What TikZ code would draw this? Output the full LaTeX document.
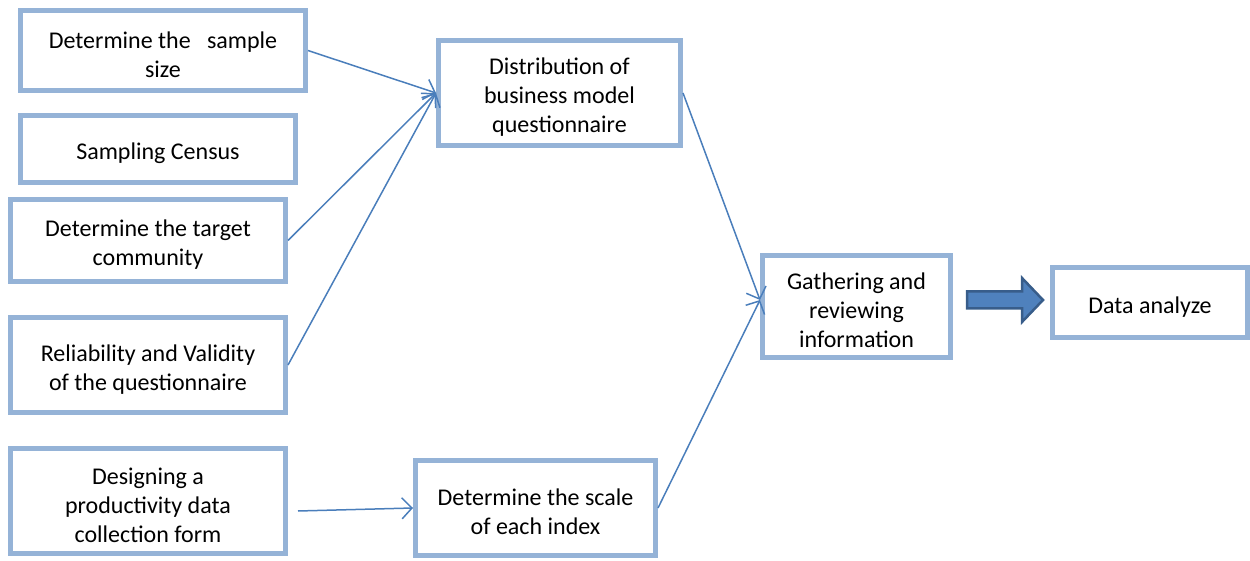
\documentclass[tikz,border=0pt]{standalone}
\usepackage{fontspec}
\setmainfont{Carlito}
\usetikzlibrary{arrows.meta}
\definecolor{boxborder}{HTML}{95B3D7}
\definecolor{linkblue}{HTML}{4A7EBB}
\definecolor{fatfill}{HTML}{4F81BD}
\definecolor{fatdraw}{HTML}{385D8A}
\newcommand\firstln{\rule{0pt}{25pt}}
\begin{document}
\begin{tikzpicture}[x=1pt,y=-1pt,
  box/.style={draw=boxborder,line width=5pt,fill=white,align=center,inner sep=0pt,
    font=\fontsize{24}{29}\selectfont,text=black},
  link/.style={draw=linkblue,line width=1.5pt,-{Straight Barb[length=10pt,width=21pt,line width=1.5pt]}},
  fatarrow/.style={draw=fatdraw,fill=fatfill,line width=2.5pt,line join=miter}]
\useasboundingbox (0,0) rectangle (1250,561);
\node[box,minimum width=285pt,minimum height=80pt] (b1) at (163,50.5) {\firstln Determine the\ \ \ sample\\size};
\node[box,minimum width=275pt,minimum height=67pt] (b2) at (158,149) {\firstln Sampling Census};
\node[box,minimum width=275pt,minimum height=82pt] (b3) at (148,240.5) {\firstln Determine the target\\community};
\node[box,minimum width=275pt,minimum height=95pt] (b4) at (148,365) {\firstln Reliability and Validity\\of the questionnaire};
\node[box,minimum width=275pt,minimum height=105pt] (b5) at (148,501) {\firstln Designing a\\productivity data\\collection form};
\node[box,minimum width=242pt,minimum height=105pt] (dist) at (559.5,93) {\firstln Distribution of\\business model\\questionnaire};
\node[box,minimum width=240pt,minimum height=95pt] (scale) at (535.5,508) {\firstln Determine the scale\\of each index};
\node[box,minimum width=188pt,minimum height=102pt] (gath) at (856.5,306.5) {\firstln Gathering and\\reviewing\\information};
\node[box,minimum width=195pt,minimum height=70pt] (data) at (1150,302.5) {\firstln Data analyze};
\coordinate (gin) at (760,300);
\coordinate (s5) at (298,511);
\coordinate (fa) at (967,300);
\draw[link] (b1.east) -- (dist.west);
\draw[link] (b3.east) -- (dist.west);
\draw[link] (b4.east) -- (dist.west);
\draw[link] (s5) -- (scale.west);
\draw[link] (dist.east) -- (gin);
\draw[link] (scale.east) -- (gin);
\draw[fatarrow] (fa) ++(0,-8.5) -- ++(55,0) -- ++(0,-13.5) -- ++(21,22) -- ++(-21,22) -- ++(0,-13.5) -- ++(-55,0) -- cycle;
\end{tikzpicture}
\end{document}
